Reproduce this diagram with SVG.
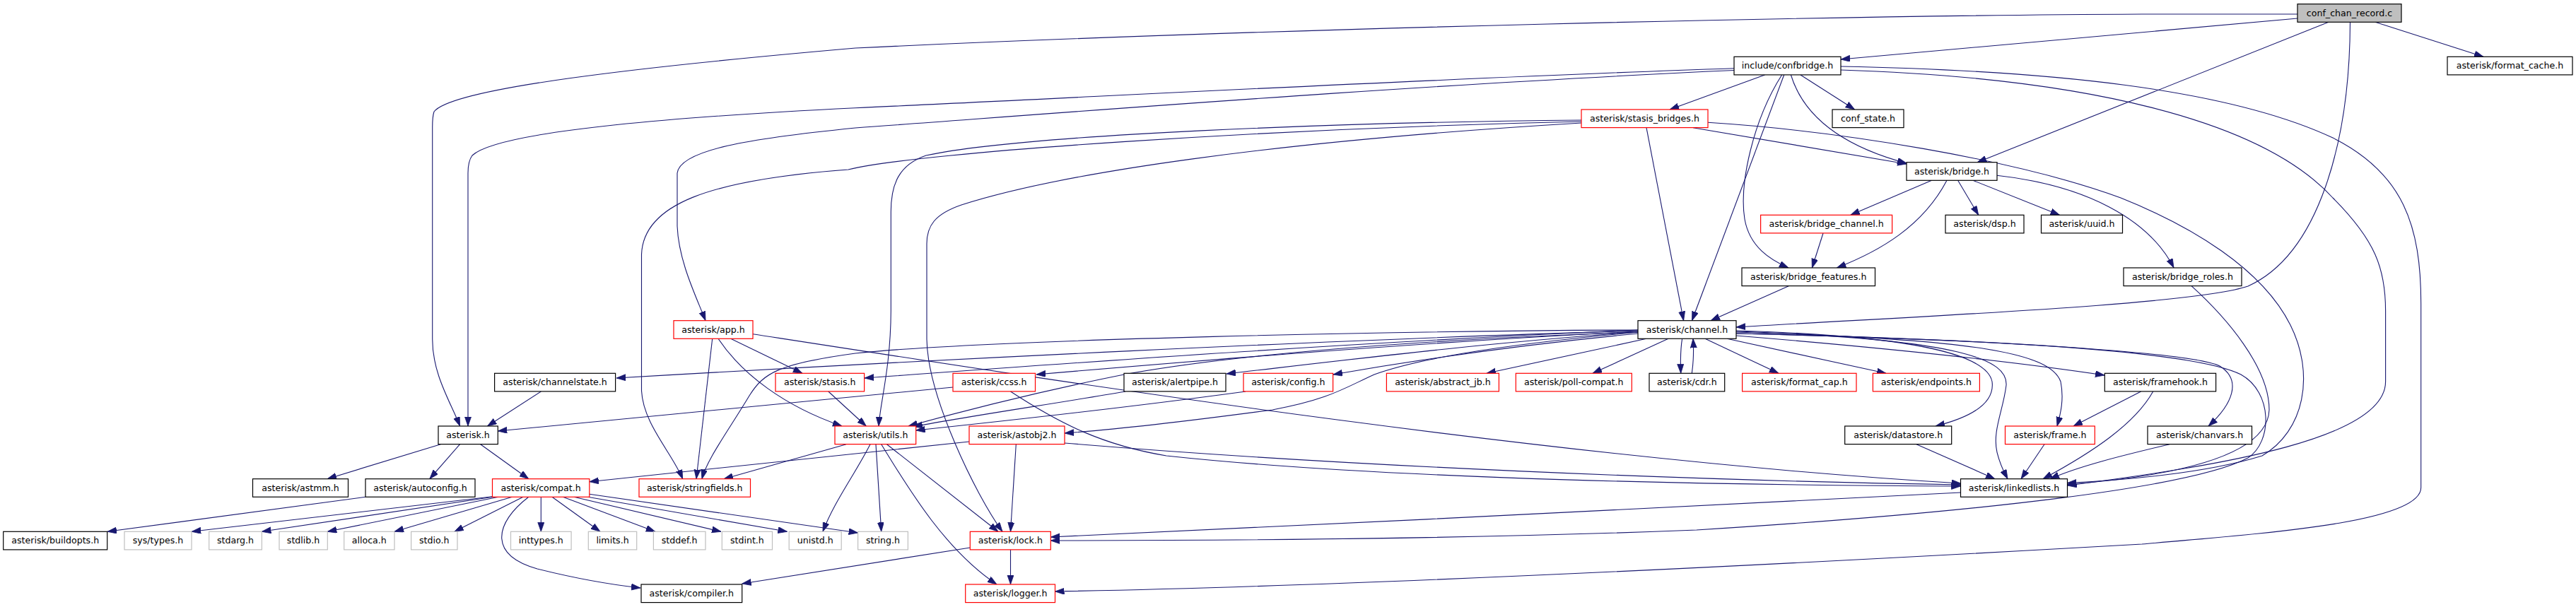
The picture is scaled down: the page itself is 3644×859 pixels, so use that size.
<svg xmlns="http://www.w3.org/2000/svg" width="3644" height="859" viewBox="0 0 3644 859">
<style>
.nd rect{fill:#fff;stroke:#000;stroke-width:1.2}
.rd rect{fill:#fff;stroke:#ff0000;stroke-width:1.2}
.gr rect{fill:#fff;stroke:#bfbfbf;stroke-width:1.2}
.rt rect{fill:#bfbfbf;stroke:#000;stroke-width:1.2}
text{font-family:"DejaVu Sans","Liberation Sans",sans-serif;font-size:12.6px;fill:#000;text-anchor:middle}
#edges path{fill:none;stroke:#191970;stroke-width:1.1;marker-end:url(#a)}
</style>
<defs>
<marker id="a" markerUnits="userSpaceOnUse" markerWidth="14" markerHeight="10" refX="13" refY="4.5" orient="auto">
<path d="M0,0 L13,4.5 L0,9 z" fill="#191970" stroke="#191970" stroke-width="0.8"/>
</marker>
</defs>
<rect width="3644" height="859" fill="#fff"/>
<g id="edges">
<path d="M3360,31.3 L3513,80.3"/>
<path d="M3250,26 C3000,48 2800,66 2604,84"/>
<path d="M3250,20 L3030,20 C2600,22 1800,40 1210,68 C900,95 640,125 614,158 Q611.7,165 611.7,180 L611.7,480 C611.7,530 638,570 650.6,603"/>
<path d="M3294,31.3 L2797,229.7"/>
<path d="M3324.5,31.3 C3324,200 3280,360 3180,405 C3100,432 2700,448 2456,463"/>
<path d="M2453,96.7 C2000,112 1500,140 1210,152.7 C900,168 700,190 668,220 Q662,228 662,245 L662,603"/>
<path d="M2453,99.5 C2000,120 1500,160 1210,181 C1060,196 962,212 958,245 L958,320 C960,370 985,420 998,453.7"/>
<path d="M2496.5,106 L2362,155"/>
<path d="M2547,106 L2623.7,155"/>
<path d="M2533.4,106 C2550,160 2600,205 2697,231"/>
<path d="M2520.6,106 C2480,170 2460,260 2468,310 C2475,350 2505,368 2530,379"/>
<path d="M2523.7,106 L2393.5,453.7"/>
<path d="M2604,94 C2900,100 3150,125 3300,195 C3400,245 3424.7,320 3424.7,430 L3424.7,690 C3424.7,740 3200,755 3030,770 C2500,800 1900,830 1492.5,837"/>
<path d="M2604,99 C2950,110 3200,170 3300,280 C3360,340 3374.6,380 3374.6,440 L3374.6,540 C3374.6,620 3150,658 2924.4,687"/>
<path d="M2237,170 C1900,173 1450,190 1310,220 C1272,233 1260.3,260 1260.3,300 L1260.3,440 C1260,520 1245,570 1243,603"/>
<path d="M2237,172 C1800,182 1300,215 1200,240 C1000,255 910,290 907.5,360 L907.5,553 C910,600 950,640 965.7,677.7"/>
<path d="M2237,174 C1800,200 1500,245 1360,290 C1322,303 1311,320 1311,345 L1311,480 C1312,560 1380,700 1418,752.3"/>
<path d="M2329,180.7 L2381.6,453.7"/>
<path d="M2395,180.7 C2500,198 2600,215 2697,232"/>
<path d="M2416,173.3 C2600,185 2850,225 3000,280 C3100,320 3200,380 3240,460 C3275,530 3260,610 3200,645 C3120,670 3000,680 2924.4,683.5"/>
<path d="M3100,404.7 C3150,450 3210,520 3210,580 C3208,640 3100,672 2924.4,685.5"/>
<path d="M2456,472 C2800,480 3100,495 3170,530 C3215,555 3215,625 3180,648 C3100,690 2800,725 2400,750 C2100,762 1800,765 1486.3,765"/>
<path d="M2732.6,255.3 L2617.8,304.3"/>
<path d="M2754,255.3 C2720,320 2660,355 2598.4,379"/>
<path d="M2769.6,255.3 L2798.7,304.3"/>
<path d="M2791,255.3 L2913.5,304.3"/>
<path d="M2824.8,248.3 C2950,262 3040,310 3075,379"/>
<path d="M2579,330 L2563.4,379"/>
<path d="M2530.3,404.7 L2420,453.7"/>
<path d="M2317,468 C1900,480 1300,510 872,535"/>
<path d="M2317,467 C1900,485 1500,515 1223,535"/>
<path d="M2317,469 C2000,485 1700,510 1466,530"/>
<path d="M2317,470 C2100,485 1900,510 1735,529"/>
<path d="M2317,472 C2150,488 2000,510 1886,530"/>
<path d="M2329,479.3 L2103,528.3"/>
<path d="M2360,479.3 L2253,528.3"/>
<path d="M2379.6,479.3 C2377,495 2377,510 2377.7,528.3"/>
<path d="M2393.3,528.3 C2396,510 2396,495 2395,479.3"/>
<path d="M2412,479.3 L2516,528.3"/>
<path d="M2443,479.3 L2668,528.3"/>
<path d="M2456,475 C2700,495 2850,512 2977,531"/>
<path d="M2456,468 C2700,475 2810,500 2818,540 C2822,570 2790,590 2738,603"/>
<path d="M2456,469 C2780,480 2840,510 2838,545 C2834,580 2818,610 2825,640 C2830,660 2836,670 2840,677.7"/>
<path d="M2456,470 C2800,480 2900,500 2915,540 C2920,565 2915,585 2910,603"/>
<path d="M2456,472 C2800,480 3100,498 3140,518 C3172,538 3158,572 3124,603"/>
<path d="M2317,470 C1900,485 1700,510 1590,530 C1450,558 1350,585 1285,603"/>
<path d="M2317,470 C2100,490 2000,510 1944,530 C1900,550 1880,565 1800,580 C1650,600 1550,610 1506,613"/>
<path d="M2317,467 C2000,468 1400,480 1210,500 C1100,515 1080,528 1060,560 C1030,610 1000,650 993,677.7"/>
<path d="M1007.7,479.3 L985,677.7"/>
<path d="M1033.7,479.3 L1135,528.3"/>
<path d="M1016,479.3 C1050,530 1110,575 1191,603"/>
<path d="M1065,472.7 C1500,540 2200,650 2773.5,684"/>
<path d="M1171.8,554 L1225.3,603"/>
<path d="M1348,548 L704.3,610"/>
<path d="M1429.5,554 C1500,600 1560,630 1650,645 C1900,672 2300,686 2773.5,688"/>
<path d="M1592,554 C1500,570 1350,592 1292,604"/>
<path d="M1762,554 C1600,576 1400,598 1295.7,609"/>
<path d="M1197,628.7 L1024,677.7"/>
<path d="M1254.5,628.7 L1412,752.3"/>
<path d="M1246.7,628.7 C1290,700 1340,780 1410,827"/>
<path d="M1239,628.7 L1246.7,752.3"/>
<path d="M1231,628.7 C1210,670 1180,710 1164,752.3"/>
<path d="M1437.3,628.7 L1429.5,752.3"/>
<path d="M1371,625 L833.8,681.7"/>
<path d="M1506,627 C1900,660 2400,680 2773.5,686"/>
<path d="M1372.3,775 L1049.7,826"/>
<path d="M1429.5,778 L1429.5,827"/>
<path d="M2773.5,697 C2400,715 1900,742 1486.3,760"/>
<path d="M2711,628.7 L2822,677.7"/>
<path d="M2892,628.7 L2859,677.7"/>
<path d="M3028.6,554 L2933,603"/>
<path d="M3045.7,554 C3020,600 2960,640 2890,677.7"/>
<path d="M3069,628.7 C3000,645 2940,660 2900,677.7"/>
<path d="M765.3,554 L689.5,603"/>
<path d="M623.3,628.7 L463,677.7"/>
<path d="M650.6,628.7 L607.8,677.7"/>
<path d="M679.7,628.7 L747.8,677.7"/>
<path d="M517,703.3 L152,752.3"/>
<path d="M696.5,702.7 L271.2,752.3"/>
<path d="M697,703.3 L370.4,752.3"/>
<path d="M705,703.3 L463.3,752.3"/>
<path d="M724.5,703.3 L558,752.3"/>
<path d="M740,703.3 L642.8,752.3"/>
<path d="M765.3,703.3 L765.3,752.3"/>
<path d="M781,703.3 L849,752.3"/>
<path d="M796.4,703.3 L926.8,752.3"/>
<path d="M812,703.3 L1020,752.3"/>
<path d="M831.5,703.3 L1113.5,752.3"/>
<path d="M833.8,699.3 L1213.6,754"/>
<path d="M747.8,703.3 C700,740 690,785 760,805 C820,820 870,828 906,832"/>
</g>
<g id="n1" class="rt"><rect x="3250" y="5.7" width="147" height="25.6"/><text x="3323.5" y="22.7">conf_chan_record.c</text></g>
<g id="n2" class="nd"><rect x="2453" y="80.3" width="151" height="25.6"/><text x="2528.5" y="97.3">include/confbridge.h</text></g>
<g id="n3" class="nd"><rect x="3462" y="80.3" width="177" height="25.6"/><text x="3550.5" y="97.3">asterisk/format_cache.h</text></g>
<g id="n4" class="rd"><rect x="2237" y="155" width="179" height="25.6"/><text x="2326.5" y="172">asterisk/stasis_bridges.h</text></g>
<g id="n5" class="nd"><rect x="2592" y="155" width="101" height="25.6"/><text x="2642.5" y="172">conf_state.h</text></g>
<g id="n6" class="nd"><rect x="2697" y="229.7" width="128" height="25.6"/><text x="2761" y="246.7">asterisk/bridge.h</text></g>
<g id="n7" class="rd"><rect x="2490.6" y="304.3" width="186" height="25.6"/><text x="2583.6" y="321.3">asterisk/bridge_channel.h</text></g>
<g id="n8" class="nd"><rect x="2752" y="304.3" width="111" height="25.6"/><text x="2807.5" y="321.3">asterisk/dsp.h</text></g>
<g id="n9" class="nd"><rect x="2887.5" y="304.3" width="115" height="25.6"/><text x="2945" y="321.3">asterisk/uuid.h</text></g>
<g id="n10" class="nd"><rect x="2464" y="379" width="188.5" height="25.6"/><text x="2558.2" y="396">asterisk/bridge_features.h</text></g>
<g id="n11" class="nd"><rect x="3004" y="379" width="167" height="25.6"/><text x="3087.5" y="396">asterisk/bridge_roles.h</text></g>
<g id="n12" class="rd"><rect x="953" y="453.7" width="112" height="25.6"/><text x="1009" y="470.7">asterisk/app.h</text></g>
<g id="n13" class="nd"><rect x="2317" y="453.7" width="139" height="25.6"/><text x="2386.5" y="470.7">asterisk/channel.h</text></g>
<g id="n14" class="nd"><rect x="699.6" y="528.3" width="171" height="25.6"/><text x="785.1" y="545.3">asterisk/channelstate.h</text></g>
<g id="n15" class="rd"><rect x="1097" y="528.3" width="125.6" height="25.6"/><text x="1159.8" y="545.3">asterisk/stasis.h</text></g>
<g id="n16" class="rd"><rect x="1348" y="528.3" width="116.5" height="25.6"/><text x="1406.2" y="545.3">asterisk/ccss.h</text></g>
<g id="n17" class="nd"><rect x="1590" y="528.3" width="144" height="25.6"/><text x="1662" y="545.3">asterisk/alertpipe.h</text></g>
<g id="n18" class="rd"><rect x="1759" y="528.3" width="126.6" height="25.6"/><text x="1822.3" y="545.3">asterisk/config.h</text></g>
<g id="n19" class="rd"><rect x="1961.4" y="528.3" width="159" height="25.6"/><text x="2040.9" y="545.3">asterisk/abstract_jb.h</text></g>
<g id="n20" class="rd"><rect x="2144.3" y="528.3" width="164" height="25.6"/><text x="2226.3" y="545.3">asterisk/poll-compat.h</text></g>
<g id="n21" class="nd"><rect x="2333" y="528.3" width="106.7" height="25.6"/><text x="2386.3" y="545.3">asterisk/cdr.h</text></g>
<g id="n22" class="rd"><rect x="2464.6" y="528.3" width="161.4" height="25.6"/><text x="2545.3" y="545.3">asterisk/format_cap.h</text></g>
<g id="n23" class="rd"><rect x="2649.4" y="528.3" width="151" height="25.6"/><text x="2724.9" y="545.3">asterisk/endpoints.h</text></g>
<g id="n24" class="nd"><rect x="2977.3" y="528.3" width="157.3" height="25.6"/><text x="3056" y="545.3">asterisk/framehook.h</text></g>
<g id="n25" class="nd"><rect x="620" y="603" width="84.3" height="25.6"/><text x="662.1" y="620">asterisk.h</text></g>
<g id="n26" class="rd"><rect x="1181" y="603" width="114.7" height="25.6"/><text x="1238.3" y="620">asterisk/utils.h</text></g>
<g id="n27" class="rd"><rect x="1371" y="603" width="135" height="25.6"/><text x="1438.5" y="620">asterisk/astobj2.h</text></g>
<g id="n28" class="nd"><rect x="2609.7" y="603" width="151" height="25.6"/><text x="2685.2" y="620">asterisk/datastore.h</text></g>
<g id="n29" class="rd"><rect x="2836.5" y="603" width="126.8" height="25.6"/><text x="2899.9" y="620">asterisk/frame.h</text></g>
<g id="n30" class="nd"><rect x="3038" y="603" width="147.5" height="25.6"/><text x="3111.7" y="620">asterisk/chanvars.h</text></g>
<g id="n31" class="nd"><rect x="357.5" y="677.7" width="135" height="25.6"/><text x="425" y="694.7">asterisk/astmm.h</text></g>
<g id="n32" class="nd"><rect x="517" y="677.7" width="155" height="25.6"/><text x="594.5" y="694.7">asterisk/autoconfig.h</text></g>
<g id="n33" class="rd"><rect x="696.5" y="677.7" width="137.3" height="25.6"/><text x="765.1" y="694.7">asterisk/compat.h</text></g>
<g id="n34" class="rd"><rect x="904" y="677.7" width="157.5" height="25.6"/><text x="982.7" y="694.7">asterisk/stringfields.h</text></g>
<g id="n35" class="nd"><rect x="2773.5" y="677.7" width="151" height="25.6"/><text x="2849" y="694.7">asterisk/linkedlists.h</text></g>
<g id="n36" class="nd"><rect x="4.7" y="752.3" width="147" height="25.6"/><text x="78.2" y="769.3">asterisk/buildopts.h</text></g>
<g id="n37" class="gr"><rect x="176" y="752.3" width="95" height="25.6"/><text x="223.5" y="769.3">sys/types.h</text></g>
<g id="n38" class="gr"><rect x="295.7" y="752.3" width="74.7" height="25.6"/><text x="333" y="769.3">stdarg.h</text></g>
<g id="n39" class="gr"><rect x="395" y="752.3" width="68.3" height="25.6"/><text x="429.1" y="769.3">stdlib.h</text></g>
<g id="n40" class="gr"><rect x="486.7" y="752.3" width="71.3" height="25.6"/><text x="522.3" y="769.3">alloca.h</text></g>
<g id="n41" class="gr"><rect x="581.6" y="752.3" width="65.4" height="25.6"/><text x="614.3" y="769.3">stdio.h</text></g>
<g id="n42" class="gr"><rect x="722.5" y="752.3" width="85.6" height="25.6"/><text x="765.3" y="769.3">inttypes.h</text></g>
<g id="n43" class="gr"><rect x="832.3" y="752.3" width="68.4" height="25.6"/><text x="866.5" y="769.3">limits.h</text></g>
<g id="n44" class="gr"><rect x="924.4" y="752.3" width="73.6" height="25.6"/><text x="961.2" y="769.3">stddef.h</text></g>
<g id="n45" class="gr"><rect x="1021.3" y="752.3" width="71.2" height="25.6"/><text x="1056.9" y="769.3">stdint.h</text></g>
<g id="n46" class="gr"><rect x="1116.2" y="752.3" width="74" height="25.6"/><text x="1153.2" y="769.3">unistd.h</text></g>
<g id="n47" class="gr"><rect x="1213.6" y="752.3" width="70.8" height="25.6"/><text x="1249" y="769.3">string.h</text></g>
<g id="n48" class="rd"><rect x="1372.3" y="752.3" width="114" height="25.6"/><text x="1429.3" y="769.3">asterisk/lock.h</text></g>
<g id="n49" class="nd"><rect x="907" y="827" width="142.7" height="25.6"/><text x="978.3" y="844">asterisk/compiler.h</text></g>
<g id="n50" class="rd"><rect x="1365.7" y="827" width="126.8" height="25.6"/><text x="1429.1" y="844">asterisk/logger.h</text></g>
</svg>
